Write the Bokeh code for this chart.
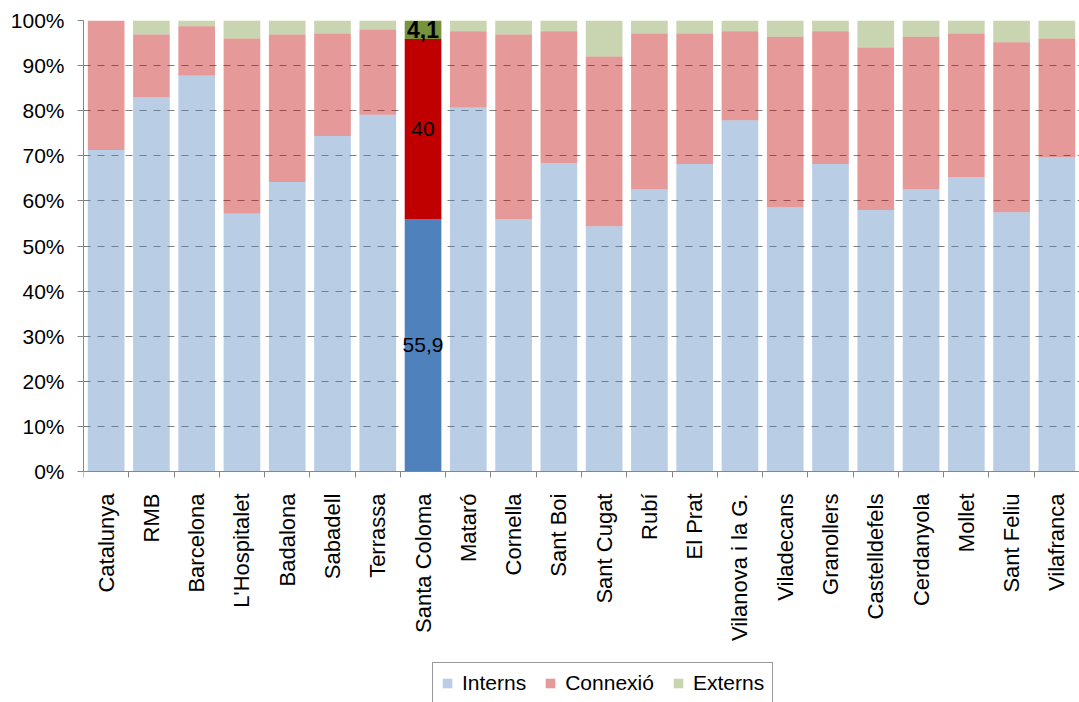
import math
import numpy as np
from bokeh.plotting import figure
from bokeh.models import (ColumnDataSource, Range1d, FixedTicker, PrintfTickFormatter,
                          Legend, LegendItem)
from bokeh.core.properties import value
from bokeh.embed import file_html
from bokeh.resources import INLINE

categories = ["Catalunya", "RMB", "Barcelona", "L'Hospitalet", "Badalona", "Sabadell",
              "Terrassa", "Santa Coloma", "Mataró", "Cornella", "Sant Boi", "Sant Cugat",
              "Rubí", "El Prat", "Vilanova i la G.", "Viladecans", "Granollers",
              "Castelldefels", "Cerdanyola", "Mollet", "Sant Feliu", "Vilafranca"]
interns = [71.3, 83.0, 87.8, 57.2, 64.2, 74.4, 79.1, 55.9, 80.7, 56.0, 68.4, 54.4,
           62.6, 68.2, 77.9, 58.6, 68.2, 58.0, 62.6, 65.3, 57.5, 69.7]
connexio = [28.7, 13.9, 10.9, 38.8, 32.7, 22.7, 18.9, 40.0, 16.9, 40.9, 29.2, 37.6,
            34.5, 28.9, 19.7, 37.8, 29.4, 36.0, 33.8, 31.8, 37.7, 26.3]
externs = [0.0, 3.1, 1.3, 4.0, 3.1, 2.9, 2.0, 4.1, 2.4, 3.1, 2.4, 8.0,
           2.9, 2.9, 2.4, 3.6, 2.4, 6.0, 3.6, 2.9, 4.8, 4.0]
series_names = ["Interns", "Connexió", "Externs"]
highlight = "Santa Coloma"
y_ticks = [0, 10, 20, 30, 40, 50, 60, 70, 80, 90, 100]

colors = ["#4F81BD", "#C00000", "#77933C"]
FONT = "Liberation Sans"

W, H = 1079, 702
TOP, LEFT = 20, 83
ZERO_PX = 471          # pixel row of the 0% line
px_per_unit = (ZERO_PX - TOP) / 100.0
y_min = -(H - ZERO_PX) / px_per_unit

n = len(categories)
xs = np.arange(n)
vals = np.array([interns, connexio, externs])
bottoms = np.vstack([np.zeros(n), np.cumsum(vals, axis=0)[:-1]])
tops = bottoms + vals
alphas = [1.0 if c == highlight else 0.4 for c in categories]

p = figure(width=W, height=H, x_range=Range1d(-0.5, n - 0.5), y_range=Range1d(y_min, 100),
           output_backend="svg", toolbar_location=None,
           min_border_left=LEFT, min_border_right=0, min_border_top=TOP, min_border_bottom=0)
p.outline_line_color = None
p.background_fill_color = "white"

renderers = []
for i, name in enumerate(series_names):
    src = ColumnDataSource(dict(x=xs, bottom=bottoms[i], top=tops[i], alpha=alphas))
    r = p.vbar(x="x", bottom="bottom", top="top", width=0.81, source=src,
               fill_color=colors[i], fill_alpha="alpha", line_color=None)
    renderers.append(r)

# data labels for highlighted bar
hi = categories.index(highlight)
lab_y = [(bottoms[i][hi] + tops[i][hi]) / 2 for i in range(3)]
lab_t = [f"{vals[i][hi]:g}".replace(".", ",") for i in range(3)]
p.text(x=[hi, hi], y=lab_y[:2], text=lab_t[:2], text_font=value(FONT),
       text_font_size="21px", text_align="center", text_baseline="middle", text_color="black")
p.text(x=[hi], y=[lab_y[2]], text=[lab_t[2]], text_font=value(FONT),
       text_font_size="23px", text_font_style="bold", text_align="center",
       text_baseline="middle", text_color="black")

# grid
p.xgrid.grid_line_color = None
p.ygrid.ticker = FixedTicker(ticks=y_ticks[1:])
p.ygrid.grid_line_color = "#7F7F7F"
p.ygrid.grid_line_dash = "7 7"
p.ygrid.grid_line_width = 1

# y axis
ya = p.yaxis[0]
ya.ticker = FixedTicker(ticks=y_ticks)
ya.bounds = (0, 100)
ya.formatter = PrintfTickFormatter(format="%d%%")
ya.major_label_text_font = FONT
ya.major_label_text_font_size = "21px"
ya.major_label_text_color = "black"
ya.axis_line_color = "#868686"
ya.major_tick_line_color = "#868686"
ya.major_tick_out = 6
ya.major_tick_in = 0
ya.minor_tick_line_color = None
ya.major_label_standoff = 13

# x axis drawn at the 0% line
xa = p.xaxis[0]
xa.fixed_location = 0
xa.ticker = FixedTicker(ticks=list(range(n)), minor_ticks=[i - 0.5 for i in range(n + 1)])
xa.major_label_overrides = {i: c for i, c in enumerate(categories)}
xa.major_label_orientation = math.pi / 2
xa.major_label_text_font = FONT
xa.major_label_text_font_size = "22px"
xa.major_label_text_color = "black"
xa.axis_line_color = "#868686"
xa.major_tick_line_color = None
xa.major_tick_out = 0
xa.major_tick_in = 0
xa.minor_tick_line_color = "#868686"
xa.minor_tick_out = 6
xa.minor_tick_in = 0
xa.major_label_standoff = 16

legend = Legend(items=[LegendItem(label=series_names[i], renderers=[renderers[i]], index=0)
                       for i in range(3)],
                orientation="horizontal", location=(349, -2))
legend.label_text_font = FONT
legend.label_text_font_size = "21px"
legend.label_text_color = "black"
legend.glyph_width = 12
legend.glyph_height = 12
legend.label_standoff = 9
legend.spacing = 18
legend.padding = 8
legend.margin = 0
legend.border_line_color = "#333333"
legend.border_line_width = 1
legend.background_fill_color = "white"
legend.background_fill_alpha = 1.0
p.add_layout(legend)

open("out.html", "w").write(file_html(p, INLINE))
